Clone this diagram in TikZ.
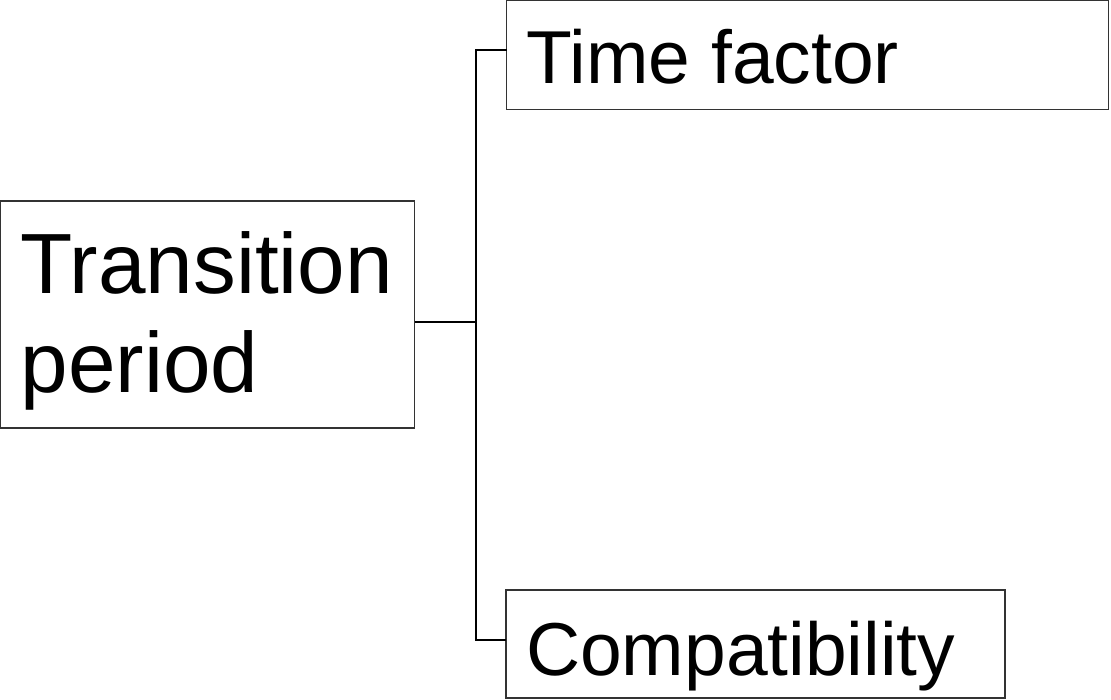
\documentclass[tikz,border=0pt]{standalone}
\usepackage{fontspec}
\setmainfont{Liberation Sans}
\usepackage{tikz}
\usetikzlibrary{positioning}

\begin{document}
\begin{tikzpicture}[font=\fontsize{75pt}{86pt}\selectfont,
		box/.style={draw=black!80, line width=1.3pt, rectangle, align=flush left, inner xsep=20pt, inner ysep=0pt, outer sep=0pt, text depth=0pt},
		wire/.style={draw, black, line width=1.3pt}]
		\useasboundingbox (0pt, 0pt) rectangle (1111pt, -700pt);
		\node [box, minimum width=602pt, minimum height=109pt, text width=562pt, text height=57pt] (time) at (807.5pt, -55pt) {Time factor};
		\node [box, minimum width=499pt, minimum height=108pt, text width=459pt, text height=62pt] (compat) at (755.5pt, -644pt) {Compatibility};
		\node [box, font=\fontsize{85.5pt}{99pt}\selectfont, minimum width=414pt, minimum height=227pt, text width=374pt, inner xsep=20pt, text height=62pt, text depth=103pt] (trans) at (207.7pt, -314.5pt) {Transition\\period};
		\coordinate (fork) at (476pt, -322pt);
		\coordinate (tbend) at (476pt, -50pt);
		\coordinate (cbend) at (476pt, -640pt);
		\path [wire] (trans.east |- fork) -- (fork);
		\path [wire] (time.west |- tbend) -- (tbend) -- (cbend) -- (compat.west |- cbend);
	\end{tikzpicture}
\end{document}
